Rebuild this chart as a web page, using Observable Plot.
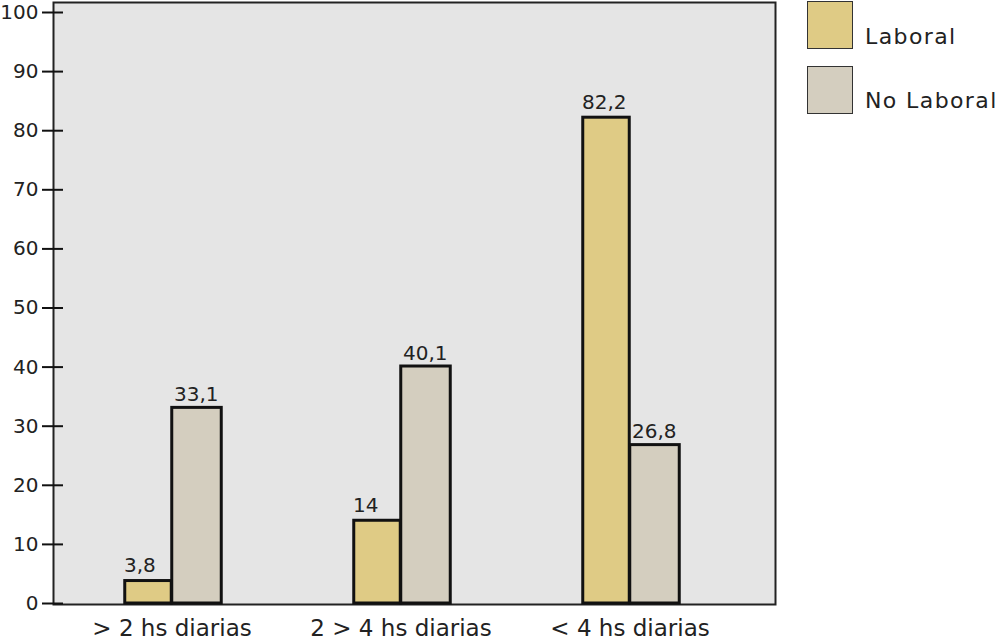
<!DOCTYPE html>
<html>
<head>
<meta charset="utf-8">
<script src="https://cdn.jsdelivr.net/npm/d3@7"></script>
<script src="https://cdn.jsdelivr.net/npm/@observablehq/plot@0.6"></script>
<style>
  body { margin: 0; background: #fff; font-family: "DejaVu Sans", Verdana, sans-serif; }
  #wrap { position: relative; width: 1000px; height: 642px; overflow: hidden; }
  .leg { position: absolute; left: 807px; width: 44px; height: 46px; border: 1px solid #333; }
  .legt { position: absolute; left: 865px; font-size: 22px; letter-spacing: 1.4px; color: #222; white-space: nowrap; }
</style>
</head>
<body>
<div id="wrap"></div>
<script>
const categories = ["> 2 hs diarias", "2 > 4 hs diarias", "< 4 hs diarias"];
const seriesNames = ["Laboral", "No Laboral"];
const laboral = [3.8, 14, 82.2];
const noLaboral = [33.1, 40.1, 26.8];
const laboralLabels = ["3,8", "14", "82,2"];
const noLaboralLabels = ["33,1", "40,1", "26,8"];
const yTicks = [0, 10, 20, 30, 40, 50, 60, 70, 80, 90, 100];
const colors = ["#dfcb85", "#d4cebf"];

const dataL = categories.map((c, i) => ({cat: c, value: laboral[i], label: laboralLabels[i]}));
const dataN = categories.map((c, i) => ({cat: c, value: noLaboral[i], label: noLaboralLabels[i]}));

const half = 229.5 / 2;
const plot = Plot.plot({
  width: 1000,
  height: 642,
  marginLeft: 53,
  marginRight: 225,
  marginTop: 2,
  marginBottom: 38,
  style: {fontFamily: "DejaVu Sans, Verdana, sans-serif", background: "transparent", color: "#222"},
  x: {type: "band", domain: categories, paddingInner: 0, paddingOuter: 0, insetLeft: 3, insetRight: 30},
  y: {domain: [0, 100], insetTop: 10, insetBottom: 1},
  marks: [
    Plot.frame({fill: "#e5e5e5", stroke: "#222", strokeWidth: 2}),
    Plot.barY(dataL, {x: "cat", y: "value", fill: colors[0], stroke: "#111", strokeWidth: 3, insetLeft: half - 47, insetRight: half}),
    Plot.barY(dataN, {x: "cat", y: "value", fill: colors[1], stroke: "#111", strokeWidth: 3, insetLeft: half, insetRight: half - 50}),
    Plot.text(dataL, {x: "cat", y: "value", text: "label", textAnchor: "start", lineAnchor: "bottom", dx: -48, dy: -9, fontSize: 20, fill: "#222", style: {letterSpacing: "1.5px"}}),
    Plot.text(dataN, {x: "cat", y: "value", text: "label", textAnchor: "start", lineAnchor: "bottom", dx: 2, dy: -7, fontSize: 20, fill: "#222", style: {letterSpacing: "1.5px"}}),
    Plot.axisY({ticks: yTicks, tickSize: 0, tickPadding: 15, fontSize: 20, label: null, style: {letterSpacing: "0.5px"}}),
    Plot.axisY({ticks: yTicks, tickSize: 21, dx: 10, text: null, label: null, stroke: "#111", strokeWidth: 2}),
    Plot.axisX({tickSize: 0, tickPadding: 15, fontSize: 23, label: null, style: {letterSpacing: "1.2px"}})
  ]
});
const wrap = document.getElementById("wrap");
wrap.appendChild(plot);

const legendTops = [1, 66];
const legendBaselines = [47, 111];
seriesNames.forEach((name, i) => {
  const sw = document.createElement("div");
  sw.className = "leg";
  sw.style.top = legendTops[i] + "px";
  sw.style.background = colors[i];
  wrap.appendChild(sw);
  const t = document.createElement("div");
  t.className = "legt";
  t.textContent = name;
  t.style.top = (legendBaselines[i] - 21) + "px";
  t.style.lineHeight = "22px";
  wrap.appendChild(t);
});
</script>
</body>
</html>
